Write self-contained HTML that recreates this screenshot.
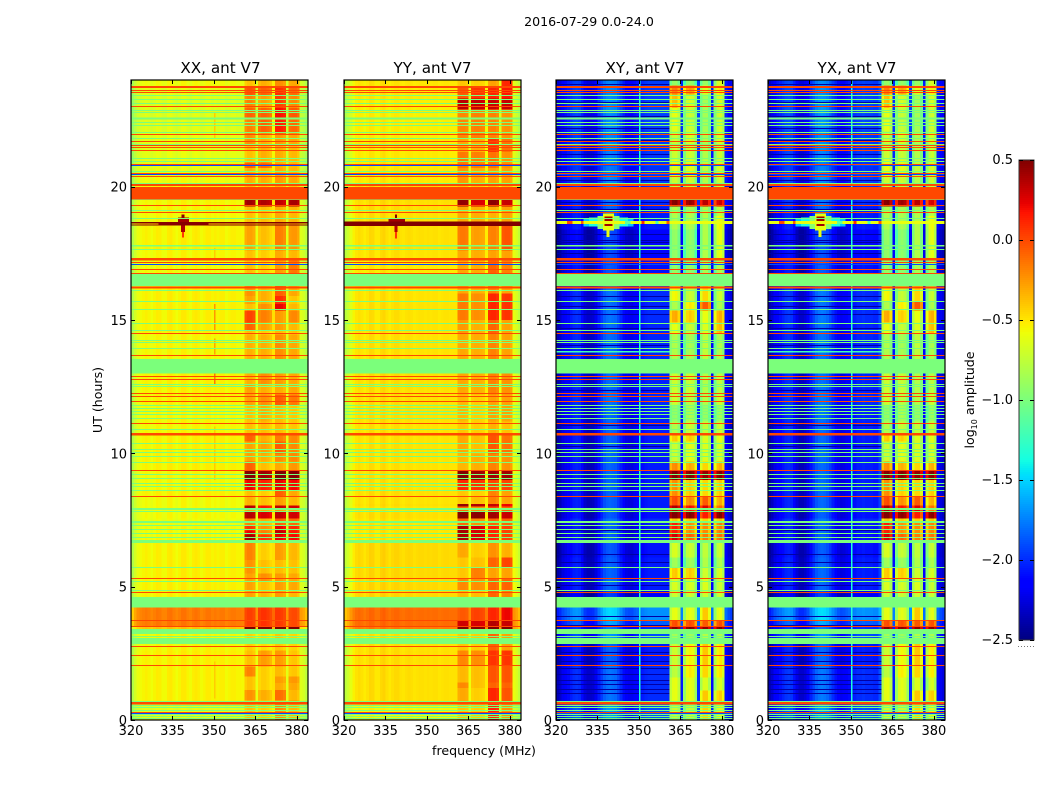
<!DOCTYPE html>
<html lang="en">
<head>
<meta charset="utf-8">
<title>2016-07-29 0.0-24.0 amplitude spectrograms</title>
<style>
html,body{margin:0;padding:0;background:#fff;width:1050px;height:800px;overflow:hidden}
svg{display:block;font-family:"DejaVu Sans","Liberation Sans",sans-serif;fill:#000}
.cells{shape-rendering:crispEdges}
</style>
</head>
<body>
<svg id="figure" xmlns="http://www.w3.org/2000/svg" width="1050" height="800" viewBox="0 0 1050 800">
  <rect x="0" y="0" width="1050" height="800" fill="#fff"/>
  <text x="589" y="26" font-size="12.6" text-anchor="middle">2016-07-29 0.0-24.0</text>
  <text x="220.5" y="73" font-size="15.2" text-anchor="middle">XX, ant V7</text>
  <text x="432.5" y="73" font-size="15.2" text-anchor="middle">YY, ant V7</text>
  <text x="645" y="73" font-size="15.2" text-anchor="middle">XY, ant V7</text>
  <text x="857" y="73" font-size="15.2" text-anchor="middle">YX, ant V7</text>
  <text transform="translate(102,400) rotate(-90)" font-size="12.6" text-anchor="middle">UT (hours)</text>
  <text x="484" y="755" font-size="12.6" text-anchor="middle">frequency (MHz)</text>
  <text transform="translate(974,400) rotate(-90)" font-size="12.6" text-anchor="middle">log<tspan font-size="8" dy="3">10</tspan><tspan dy="-3"> amplitude</tspan></text>
  <g id="plots"></g>
</svg>
<script>
// ---- axis tick labels ----
const freqTicks = [320, 335, 350, 365, 380];
const hourTicks = [0, 5, 10, 15, 20];
const colorTicks = [0.5, 0.0, -0.5, -1.0, -1.5, -2.0, -2.5];
const colorTickLabels = ["0.5", "0.0", "\u22120.5", "\u22121.0", "\u22121.5", "\u22122.0", "\u22122.5"];

// ---- frequency bins (MHz), lower edge of each 1 MHz column ----
const firstFreq = 320;
const lastFreq = 384;
const blobRanges = [[361, 364], [366, 370], [372, 375], [377, 380]];

// ---- mean log10 amplitude per frequency column ----
const profileXX = [-0.8,-0.68,-0.6,-0.57,-0.55,-0.53,-0.55,-0.58,-0.55,-0.52,-0.53,-0.57,-0.57,-0.52,-0.51,-0.55,-0.58,-0.55,-0.51,-0.51,-0.55,-0.57,-0.53,-0.51,-0.53,-0.57,-0.55,-0.52,-0.52,-0.55,-0.53,-0.55,-0.53,-0.53,-0.57,-0.55,-0.53,-0.53,-0.55,-0.55,-0.56,-0.42,-0.38,-0.38,-0.42,-0.6,-0.46,-0.42,-0.42,-0.45,-0.5,-0.48,-0.36,-0.36,-0.38,-0.42,-0.62,-0.42,-0.4,-0.4,-0.45,-0.64,-0.68,-0.76];
const profileYY = [-0.74,-0.68,-0.6,-0.52,-0.47,-0.45,-0.47,-0.5,-0.47,-0.43,-0.44,-0.49,-0.49,-0.44,-0.42,-0.46,-0.49,-0.46,-0.44,-0.44,-0.47,-0.48,-0.46,-0.45,-0.46,-0.48,-0.47,-0.46,-0.46,-0.47,-0.46,-0.47,-0.46,-0.46,-0.48,-0.47,-0.46,-0.46,-0.47,-0.47,-0.47,-0.42,-0.4,-0.4,-0.42,-0.56,-0.44,-0.42,-0.42,-0.44,-0.46,-0.5,-0.4,-0.38,-0.38,-0.42,-0.56,-0.4,-0.38,-0.38,-0.42,-0.58,-0.64,-0.72];
const profileXY = [-2.35,-2.3,-2.2,-2.15,-2.1,-2.05,-2.0,-1.98,-2.0,-2.1,-2.25,-2.3,-2.3,-2.28,-2.2,-2.05,-1.95,-1.85,-1.8,-1.78,-1.8,-1.82,-1.9,-2.0,-2.1,-2.18,-2.2,-2.2,-2.15,-2.12,-2.1,-2.05,-2.02,-2.0,-2.0,-2.0,-2.0,-2.0,-2.0,-2.0,-2.0,-0.85,-0.72,-0.7,-0.85,-2.05,-1.0,-0.75,-0.7,-0.75,-1.0,-2.0,-0.95,-0.75,-0.75,-0.95,-2.1,-1.0,-0.75,-0.7,-0.85,-2.1,-2.2,-2.25];
const profileYX = [-2.35,-2.28,-2.18,-2.12,-2.08,-2.03,-1.98,-1.96,-1.98,-2.08,-2.22,-2.3,-2.3,-2.26,-2.18,-2.03,-1.93,-1.83,-1.78,-1.76,-1.78,-1.82,-1.9,-2.0,-2.08,-2.16,-2.2,-2.18,-2.14,-2.1,-2.08,-2.04,-2.0,-2.0,-1.98,-2.0,-2.0,-2.0,-2.02,-2.02,-1.9,-0.88,-0.72,-0.7,-0.88,-2.05,-1.0,-0.75,-0.72,-0.78,-1.0,-2.0,-0.95,-0.75,-0.75,-0.95,-2.1,-1.0,-0.75,-0.72,-0.9,-2.1,-2.2,-2.25];

// ---- time blocks: start hour, end hour, low-band offset, offsets of the four high-band blobs ----
const xxSegments = [
[0,0.63,-0.08,0,0,0.15,0.05],[0.63,0.75,0,0.05,0.05,0.1,0.1],[0.75,1.12,0,0.15,0.1,0.25,0.05],[1.12,1.38,0,0,0,0.05,0.1],[1.38,1.63,0,0,0,0.1,0.15],[1.63,2,0,0.2,0,0,0],[2,2.6,0,0,0.15,0.1,0],[2.6,3.41,-0.02,-0.05,-0.05,-0.05,-0.05],
[3.41,3.49,0.15,0.95,0.95,0.95,0.95],[3.49,4.21,0.38,0.42,0.5,0.42,0.4],[4.21,4.85,0,0.1,0.08,0.1,0.05],[4.85,5.2,0,0.1,0.05,0.1,0.1],[5.2,5.5,0,0.1,0.2,0.1,0.1],[5.5,6,0,0.15,0.05,0,0.02],[6,6.66,0,0.2,0,0.1,0.05],
[6.66,6.95,-0.03,0.8,0.5,0.6,0.6],[6.95,7.1,-0.03,0.6,0.25,0.7,0.55],[7.1,7.3,-0.03,0.45,0.2,0.6,0.5],[7.3,7.55,-0.05,0.2,0.1,0.3,0.3],[7.55,7.8,-0.03,0.75,0.7,0.7,0.7],[7.8,7.95,-0.05,0.1,0.1,0.1,0.1],[7.95,8.05,-0.03,0.75,0.6,0.7,0.7],[8.05,8.37,-0.03,0.05,0.05,0.1,0.05],
[8.37,8.6,0,0,0,0.3,0.1],[8.6,9,-0.02,0.6,0.55,0.6,0.6],[9,9.36,-0.02,0.9,0.85,0.9,0.9],[9.36,9.7,0,0.3,0.05,0.05,0.15],[9.7,10,0,0.1,0.1,0.15,0.2],[10,10.45,0,0.1,0.15,0.3,0.2],[10.45,10.75,0,0.3,0.1,0.2,0.2],[10.75,11.2,-0.02,0,0.05,0,0],
[11.2,11.8,-0.02,0,0.1,0,0],[11.8,12.2,0,0.1,0.2,0.3,0.25],[12.2,12.6,0,0.1,0.1,0.05,0.1],[12.6,13.53,0,0.05,0.2,0.1,0.1],[13.53,14.45,-0.02,0.05,0.1,0.15,0.1],[14.45,14.6,0,0,0,0,0],[14.6,14.9,0,0.3,0.15,0.1,0.05],[14.9,15.35,0,0.4,0.25,0.1,0.2],[15.35,15.6,0,0,0.2,0.6,0.05],[15.6,15.9,0,0.1,0.1,0.45,0],[15.9,16.72,0,0.15,0.1,0.3,0.1],
[16.72,17.3,-0.03,0,0,0.1,0.25],[17.3,17.6,-0.02,0,0,0.05,0.05],[17.6,18.54,0,0.1,0.05,0.2,0.15],[18.54,18.68,0.1,0.1,0.1,0.1,0.1],[18.68,19.25,-0.02,0,0.05,0.05,0.05],[19.25,19.52,-0.02,0.8,0.8,0.7,0.8],[19.52,20.05,0,0,0,0,0],[20.05,20.4,-0.05,0.05,0.1,0.1,0.1],[20.4,20.7,-0.07,0.05,0.05,0.05,0.05],[20.7,20.9,-0.07,0.3,0.3,0.05,0.05],
[20.9,21.6,-0.08,0,0.1,0.05,0.05],[21.6,22,-0.07,0.15,0.1,0.1,0.1],[22,22.6,-0.1,0.2,0.35,0.5,0.3],[22.6,22.95,-0.1,0.3,0.35,0.55,0.35],[22.95,23.4,-0.1,0.2,0.15,0.4,0.2],[23.4,23.75,-0.08,0.35,0.35,0.45,0.3],[23.75,24,-0.04,0,0.1,0.15,0.1]
];
const yySegments = [
[0,0.63,-0.1,0,0,0.5,0.15],[0.63,1.2,-0.02,0.1,0,0.5,0.35],[1.2,1.4,-0.02,0.2,0.05,0.3,0.3],[1.4,2.05,-0.02,0.05,0.05,0.35,0.35],[2.05,2.6,-0.02,0.2,0.2,0.45,0.45],[2.6,3.41,-0.03,0,0,0.3,0.1],
[3.41,3.5,0.3,0.9,0.9,0.9,0.9],[3.5,3.75,0.35,0.7,0.7,0.75,0.7],[3.75,4.21,0.35,0.35,0.45,0.5,0.6],[4.21,4.85,0,0.05,0.05,0.3,0.2],[4.85,5.3,0,0.2,0.2,0.3,0.3],[5.3,5.7,0,0,0.25,0.1,0.1],[5.7,6.1,0,0,0.05,0.3,0.4],[6.1,6.66,0,0.1,0,0.15,0.05],
[6.66,7.3,-0.04,0.8,0.7,0.5,0.4],[7.3,7.55,-0.04,0.3,0.2,0.3,0.3],[7.55,7.8,-0.02,0.9,0.9,0.8,0.7],[7.8,8,-0.04,0.3,0.2,0.4,0.3],[8,8.1,-0.02,0.85,0.8,0.7,0.6],[8.1,8.37,-0.03,0,0.05,0.2,0.1],
[8.37,8.6,-0.02,0,0,0.2,0.1],[8.6,9,-0.03,0.5,0.5,0.4,0.4],[9,9.36,-0.03,0.9,0.85,0.8,0.8],[9.36,10,-0.03,0.05,0.1,0.2,0.15],[10,10.7,-0.03,0.1,0.05,0.35,0.25],[10.7,11.2,-0.03,0,0,0.05,0],[11.2,12.2,-0.02,0.05,0,0.1,0.1],[12.2,13.53,-0.02,0.1,0.1,0.2,0.15],[13.53,14.5,-0.03,0.1,0.1,0.2,0.1],[14.5,15,-0.03,0.15,0.1,0.3,0.1],[15,16,-0.03,0.25,0.2,0.5,0.45],[16,16.72,-0.03,0.1,0.1,0.2,0.1],
[16.72,17.3,-0.05,0.1,0.1,0.3,0.2],[17.3,17.6,-0.03,0.1,0.1,0.1,0.1],[17.6,18.54,-0.02,0.25,0.15,0.2,0.35],[18.54,18.7,0,0,0,0,0],[18.7,19.25,-0.02,0.1,0.1,0.05,0.1],[19.25,19.52,-0.02,0.85,0.7,0.85,0.7],[19.52,20.1,0,0,0,0,0],[20.1,20.7,-0.05,0.15,0.1,0.1,0.1],[20.7,21.3,-0.05,0.25,0.25,0.25,0.15],[21.3,21.8,-0.05,0.1,0.1,0.45,0.25],[21.8,22.9,-0.07,0.2,0.25,0.2,0.15],[22.9,23.3,-0.06,0.75,0.75,0.7,0.7],[23.3,23.76,-0.05,0.35,0.5,0.5,0.55],[23.76,24,-0.04,0,0,0.1,0.5]
];
const crossSegments = [
[0,0.63,0.1,0,0,0.3,0.1],[0.63,1.1,0,0.1,0.1,0.35,0.3],[1.1,1.6,0,0.1,0.1,0.1,0.05],[1.6,2.05,0,-0.05,0.2,0.3,0.2],[2.05,2.85,-0.05,0,0.15,0.35,0.2],[2.85,3.41,0.1,-0.15,-0.15,-0.05,-0.1],
[3.41,3.49,0,1.2,1.2,1.2,1.2],[3.49,3.75,0.15,0.7,0.7,0.7,0.7],[3.75,4.21,0.3,0.1,0.1,0.35,0.1],[4.21,4.87,-0.15,0,0,0.05,0],[4.87,5.3,-0.05,0.05,0.05,0.1,0],[5.3,5.7,-0.05,0.3,0.3,0.05,0.05],[5.7,6.1,-0.05,-0.15,-0.15,-0.05,-0.1],[6.1,6.66,-0.08,0.05,0,0,0],
[6.66,7,-0.08,1,0.65,0.6,0.6],[7,7.4,-0.05,0.85,0.5,0.55,0.55],[7.4,7.55,0,0.3,0.3,0.3,0.3],[7.55,7.8,-0.08,1.25,1.2,0.9,1.2],[7.8,8.05,-0.05,1.1,0.9,1,0.6],[8.05,8.37,-0.05,0.7,0.5,0.7,0.4],
[8.37,9,-0.05,0.5,0.3,0.3,0.3],[9,9.36,-0.05,1.2,1.2,1.2,1.2],[9.36,9.7,-0.05,0.5,0.4,0.3,0.4],[9.7,10.45,-0.05,0,0.1,0.1,0.05],[10.45,10.75,-0.05,0.3,0.3,0.1,0.1],[10.75,11.2,-0.05,-0.1,0,0,0],
[11.2,11.8,-0.03,-0.2,-0.1,-0.15,-0.15],[11.8,12.2,0,0,-0.05,-0.05,0],[12.2,13.53,-0.03,0,0,-0.05,-0.05],[13.53,14.5,-0.02,-0.1,-0.12,0,-0.1],[14.5,14.9,-0.02,0.1,0,0.1,0.35],[14.9,15.35,0,0.4,0.3,0.15,0.4],[15.35,15.7,-0.02,-0.1,0.2,0.7,-0.1],[15.7,16.72,0,0.15,0,0.3,0],
[16.72,17.3,-0.08,-0.2,-0.2,-0.1,-0.1],[17.3,18.4,-0.12,-0.2,-0.2,-0.05,0.1],[18.4,18.9,-0.05,-0.1,-0.1,-0.05,0.15],[18.9,19.25,-0.05,-0.1,-0.1,-0.05,-0.05],[19.25,19.52,0,1.2,1.15,1.1,1],[19.52,20.05,0,0,0,0,0],[20.05,20.4,0.05,0,0,-0.05,0],[20.4,21,0.02,0.1,0.1,0,0.05],
[21,21.6,0.03,0,0,-0.05,0],[21.6,22.1,0.05,0,0.05,-0.05,0.05],[22.1,22.95,0.07,0.1,0,-0.1,0.02],[22.95,23.45,0.07,0.35,0.05,-0.1,0.05],[23.45,23.8,0.05,0.55,0.45,0.1,0.2],[23.8,24,0.05,-0.2,-0.2,-0.15,0.05]
];

// ---- narrow features: freq start, freq end, hour start, hour end, log10 amplitude ----
const xxFeatures = [
[350,350.5,0.8,2.2,-0.42],[350,350.5,9,11,-0.42],[350,350.6,12.6,13,-0.15],[350,350.6,13.7,14.3,-0.3],[350,350.6,14.6,15.6,-0.25],[350,350.5,17.3,17.7,-0.42],[350,350.5,21.8,22.8,-0.42],
[320,384,18.62,18.68,0.5],[320,384,18.54,18.58,0.5],[330,348,18.54,18.68,0.48],
[337,341,18.68,18.85,0.4],[338.3,339.3,18.85,18.95,0.5],[338,339.6,18.3,18.54,0.38],[338.4,339.2,18.1,18.3,0.05]
];
const yyFeatures = [
[320,384,18.53,18.7,0.5],
[336,342,18.7,18.82,0.4],[338.4,339.2,18.82,18.95,0.5],[338.2,339.4,18.3,18.53,0.35],[338.5,339.1,18.05,18.3,0.05]
];
const crossFeatures = [
[350,350.5,0,24,-1.35],
[330,348,18.5,18.8,-1.55],[332,346,18.5,18.85,-1.35],[335,343,18.42,18.9,-0.95],[337,341,18.35,19,-0.6],[337.5,340.5,18.52,18.88,0.42],[338.3,339.3,18.12,18.4,-0.6],
[320,384,18.6,18.72,-0.6],[324,326,18.6,18.72,0],[329,330,18.6,18.72,-0.05],[345,347,18.6,18.72,-1.1],[351,352,18.6,18.72,0.1],[356,357,18.6,18.72,-1.2],[360,361,18.6,18.72,-0.05],
[320,361,13.78,13.83,-1.2]
];

// ---- darker low-band rows in the cross-polar panels: hours ----
const crossDarkRows = [1,1.15,1.35,1.5,1.72,1.95,2.2,2.55,3.55,3.9,5.05,5.9,6.2,7.1,9.9,10.25,11.05,12.35,14.05,14.7,15.2,15.5,15.9,17.5,17.9,18,18.2,19.15,19.42,20.25,21.2,21.75,22.2,22.65,23.15,23.85];
const crossDarkLevel = -2.4;

// ---- flagged full-width bands: hour start, hour end ----
const greenBands = [[2.85,3.04],[3.22,3.41],[4.21,4.62],[6.63,6.75],[7.38,7.46],[13,13.53],[16.28,16.72],[19.5,19.53],[17.76,17.82],[22.52,22.6],[23.1,23.14]];
const redBands = [[19.52,19.98],[0.58,0.68],[10.66,10.76],[16.19,16.26],[23.7,23.78],[20.02,20.1],[17.24,17.32]];

// ---- flagged single rows by hour ----
const greenRows = [23.41,23.27,22.85,22.77,22.39,22.31,22.02,21.81,21.6,21.06,20.96,20.56,20.12,19.12,18.82,17.65,16.09,15.68,15.4,14.87,14.6,14.25,14.16,13.94,12.6,12.52,11.81,11.68,11.56,11.44,11.31,10.91,10.37,10.15,10.05,9.87,9.66,9.21,9.04,8.87,8.75,8.6,7.95,7.88,7.81,7.29,7.15,7,6.85,5.71,5.21,4.87,3.15,3.05,0.69,0.56,0.48,0.37,0.21,0.12,0.06];
const redRows = [23.62,23.53,23,21.97,21.68,21.53,21.47,21.35,20.83,20.5,20.4,19.28,19.03,17.17,16.91,16.76,14.5,13.67,12.88,12.77,12.25,12.13,11.96,11.12,9.36,8.37,5.31,4.79,3.75,3.5,2.75,2.42,2.05,0.29];
const blueRows = [20.78,20.45,17.09,0.25];

// ---- colour limits ----
const colorMin = -2.5;
const colorMax = 0.5;
const greenLevel = -1.0;
const redLevel = 0.0;
const blueLevel = -1.9;

const panelNames = ["xx", "yy", "xy", "yx"];
const panelProfiles = [profileXX, profileYY, profileXY, profileYX];
const panelSegments = [xxSegments, yySegments, crossSegments, crossSegments];
const panelFeatures = [xxFeatures, yyFeatures, crossFeatures, crossFeatures];
const panelDarkRows = [[], [], crossDarkRows, crossDarkRows];

// ---- layout ----
const panelLeft = [131, 344, 556, 768];
const panelWidth = 177;
const plotTop = 80;
const plotBottom = 720;
const barLeft = 1019;
const barWidth = 15;
const barTop = 160;
const barBottom = 640;

const NS = "http://www.w3.org/2000/svg";
const root = document.getElementById("plots");

function xScale(left, f) { return left + (f - firstFreq) / (lastFreq - firstFreq) * panelWidth; }
function yScale(h) { return plotBottom - h / 24 * (plotBottom - plotTop); }
function cScale(v) { return barBottom - (v - colorMin) / (colorMax - colorMin) * (barBottom - barTop); }

function ramp(t, pts) {
  for (let i = 1; i < pts.length; i++) {
    if (t <= pts[i][0]) {
      const a = pts[i - 1], b = pts[i];
      return a[1] + (b[1] - a[1]) * (t - a[0]) / (b[0] - a[0]);
    }
  }
  return pts[pts.length - 1][1];
}
function jet(v) {
  const t = Math.max(0, Math.min(1, (v - colorMin) / (colorMax - colorMin)));
  const r = ramp(t, [[0, 0], [0.35, 0], [0.66, 1], [0.89, 1], [1, 0.5]]);
  const g = ramp(t, [[0, 0], [0.125, 0], [0.375, 1], [0.64, 1], [0.91, 0], [1, 0]]);
  const b = ramp(t, [[0, 0.5], [0.11, 1], [0.34, 1], [0.65, 0], [1, 0]]);
  return "rgb(" + Math.round(r * 255) + "," + Math.round(g * 255) + "," + Math.round(b * 255) + ")";
}
function blobIndex(f) {
  for (let i = 0; i < blobRanges.length; i++) {
    if (f >= blobRanges[i][0] && f <= blobRanges[i][1]) return i;
  }
  return -1;
}
function makeRect(parent, x, y, w, h, fill) {
  const r = document.createElementNS(NS, "rect");
  r.setAttribute("x", x.toFixed(2));
  r.setAttribute("y", y.toFixed(2));
  r.setAttribute("width", w.toFixed(2));
  r.setAttribute("height", h.toFixed(2));
  r.setAttribute("fill", fill);
  parent.appendChild(r);
  return r;
}
function makeLine(parent, x1, y1, x2, y2) {
  const l = document.createElementNS(NS, "line");
  l.setAttribute("x1", x1);
  l.setAttribute("y1", y1);
  l.setAttribute("x2", x2);
  l.setAttribute("y2", y2);
  l.setAttribute("stroke", "#000");
  l.setAttribute("stroke-width", "1");
  parent.appendChild(l);
  return l;
}
function makeText(parent, x, y, anchor, content) {
  const t = document.createElementNS(NS, "text");
  t.setAttribute("x", x);
  t.setAttribute("y", y);
  t.setAttribute("font-size", "13");
  t.setAttribute("text-anchor", anchor);
  t.textContent = content;
  parent.appendChild(t);
  return t;
}

function drawPanel(index) {
  const left = panelLeft[index];
  const profile = panelProfiles[index];
  const group = document.createElementNS(NS, "g");
  
  
  group.setAttribute("class", "cells");
  root.appendChild(group);

  // time/frequency cells
  panelSegments[index].forEach(function (seg) {
    profile.forEach(function (base, col) {
      const f = firstFreq + col;
      const blob = blobIndex(f);
      const value = base + (blob >= 0 ? seg[3 + blob] : seg[2]);
      const y0 = yScale(seg[1]);
      const y1 = yScale(seg[0]);
      const x0 = xScale(left, f);
      const x1 = xScale(left, f + 1);
      const cell = makeRect(group, x0, y0, x1 - x0, y1 - y0, jet(value));
      
      
    });
  });

  const fullX = xScale(left, firstFreq);
  const fullW = xScale(left, lastFreq) - fullX;
  const lowW = xScale(left, blobRanges[0][0]) - fullX;

  // darker low-band rows
  panelDarkRows[index].forEach(function (h) {
    const row = makeRect(group, fullX, Math.floor(yScale(h)), lowW, 1, jet(crossDarkLevel));
    
    
  });

  // narrow features
  panelFeatures[index].forEach(function (p) {
    const x0 = xScale(left, p[0]);
    const x1 = xScale(left, p[1]);
    const y0 = yScale(p[3]);
    const y1 = yScale(p[2]);
    const feature = makeRect(group, x0, y0, Math.max(1, x1 - x0), Math.max(1, y1 - y0), jet(p[4]));
    
    
  });

  // flagged rows
  greenRows.forEach(function (h) {
    const row = makeRect(group, fullX, Math.floor(yScale(h)), fullW, 1, jet(greenLevel));
    
    
  });
  blueRows.forEach(function (h) {
    const row = makeRect(group, fullX, Math.floor(yScale(h)), fullW, 1, jet(blueLevel));
    
    
  });
  greenBands.forEach(function (b) {
    const band = makeRect(group, fullX, yScale(b[1]), fullW, yScale(b[0]) - yScale(b[1]), jet(greenLevel));
    
    
  });
  redRows.forEach(function (h) {
    const row = makeRect(group, fullX, Math.floor(yScale(h)), fullW, 1, jet(redLevel));
    
    
  });
  redBands.forEach(function (b) {
    const band = makeRect(group, fullX, yScale(b[1]), fullW, yScale(b[0]) - yScale(b[1]), jet(redLevel));
    
    
  });

  // frame
  const frame = document.createElementNS(NS, "rect");
  frame.setAttribute("x", left);
  frame.setAttribute("y", plotTop);
  frame.setAttribute("width", panelWidth);
  frame.setAttribute("height", plotBottom - plotTop);
  frame.setAttribute("fill", "none");
  frame.setAttribute("stroke", "#000");
  frame.setAttribute("stroke-width", "1.2");
  
  
  root.appendChild(frame);

  // ticks and tick labels
  freqTicks.forEach(function (f) {
    const x = Math.round(xScale(left, f)) + 0.5;
    const bottomTick = makeLine(root, x, plotBottom, x, plotBottom - 4);
    
    
    const topTick = makeLine(root, x, plotTop, x, plotTop + 4);
    
    
    const label = makeText(root, xScale(left, f), 735, "middle", String(f));
    
    
  });
  hourTicks.forEach(function (h) {
    const y = Math.round(yScale(h)) + 0.5;
    const leftTick = makeLine(root, left, y, left + 4, y);
    
    
    const rightTick = makeLine(root, left + panelWidth, y, left + panelWidth - 4, y);
    
    
    const label = makeText(root, left - 4, yScale(h) + 5, "end", String(h));
    
    
  });
}

function drawColorbar() {
  const group = document.createElementNS(NS, "g");
  
  
  group.setAttribute("class", "cells");
  root.appendChild(group);
  for (let py = barTop; py < barBottom; py += 2) {
    const v = colorMax - (py + 1 - barTop) / (barBottom - barTop) * (colorMax - colorMin);
    const strip = makeRect(group, barLeft, py, barWidth, 2, jet(v));
    
    
  }
  const frame = document.createElementNS(NS, "rect");
  frame.setAttribute("x", barLeft);
  frame.setAttribute("y", barTop);
  frame.setAttribute("width", barWidth);
  frame.setAttribute("height", barBottom - barTop);
  frame.setAttribute("fill", "none");
  frame.setAttribute("stroke", "#333");
  frame.setAttribute("stroke-width", "1");
  
  
  root.appendChild(frame);
  colorTicks.forEach(function (v, i) {
    const y = Math.round(cScale(v)) + 0.5;
    const a = makeLine(root, barLeft, y, barLeft + 4, y);
    
    
    const b = makeLine(root, barLeft + barWidth, y, barLeft + barWidth - 4, y);
    
    
    const label = makeText(root, barLeft - 6, cScale(v) + 4, "end", colorTickLabels[i]);
    
    
  });
  const dots = document.createElementNS(NS, "line");
  dots.setAttribute("x1", barLeft - 1);
  dots.setAttribute("y1", 646.5);
  dots.setAttribute("x2", barLeft + barWidth);
  dots.setAttribute("y2", 646.5);
  dots.setAttribute("stroke", "#777");
  dots.setAttribute("stroke-width", "1");
  dots.setAttribute("stroke-dasharray", "1 2");
  
  
  root.appendChild(dots);
}

panelNames.forEach(function (name, i) { drawPanel(i); });
drawColorbar();
</script>
</body>
</html>
